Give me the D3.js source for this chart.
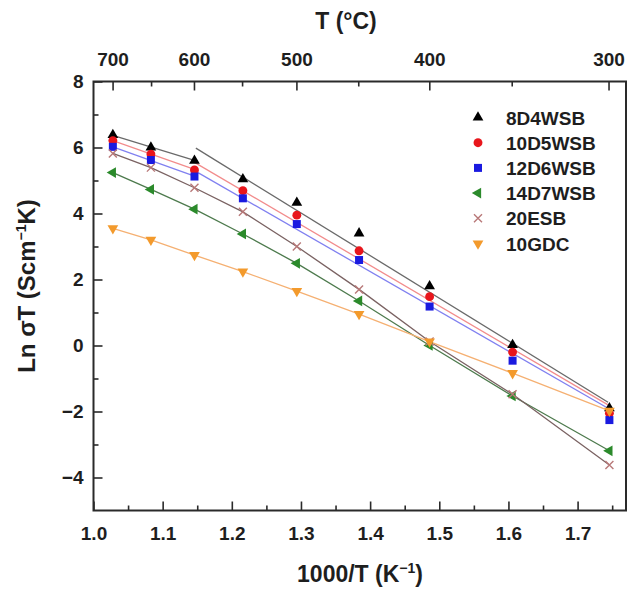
<!DOCTYPE html>
<html>
<head>
<meta charset="utf-8">
<script src="https://cdn.jsdelivr.net/npm/d3@7"></script>
<style>
    body { margin: 0; background: #fff; }
    svg text { font-family: "Liberation Sans", Arial, sans-serif; font-weight: bold; fill: #1e1e1e; }
</style>
</head>
<body>
<div id="chart"></div>
<script>
// 1000/T positions of the measured points (700 ... 300 degC)
const invT = [1.028, 1.083, 1.146, 1.216, 1.294, 1.384, 1.486, 1.606, 1.746];

const names = ['8D4WSB', '10D5WSB', '12D6WSB', '14D7WSB', '20ESB', '10GDC'];
const v8D4WSB = [6.38, 6.00, 5.60, 5.04, 4.33, 3.40, 1.80, 0.02, -1.90];
const v10D5WSB = [6.21, 5.80, 5.32, 4.69, 3.95, 2.87, 1.48, -0.20, -2.05];
const v12D6WSB = [6.02, 5.62, 5.12, 4.46, 3.68, 2.59, 1.18, -0.46, -2.26];
const v14D7WSB = [5.24, 4.73, 4.13, 3.38, 2.49, 1.35, 0.00, -1.53, -3.19];
const v20ESB = [5.82, 5.39, 4.78, 4.05, 3.00, 1.70, 0.12, -1.48, -3.62];
const v10GDC = [3.55, 3.20, 2.74, 2.24, 1.65, 0.95, 0.12, -0.84, -1.98];

// two-region linear fits (high T / low T), [1000/T, ln sigmaT]
const fit8D4WSB = [[[1.028, 6.37], [1.146, 5.61]], [[1.148, 5.98], [1.744, -1.72]]];
const fit10D5WSB = [[[1.028, 6.21], [1.146, 5.34]], [[1.146, 5.55], [1.744, -1.80]]];
const fit12D6WSB = [[[1.028, 6.02], [1.146, 5.13]], [[1.146, 5.30], [1.744, -1.90]]];

const xTicks = [1.0, 1.1, 1.2, 1.3, 1.4, 1.5, 1.6, 1.7];
const xMinor = [1.05, 1.15, 1.25, 1.35, 1.45, 1.55, 1.65, 1.75];
const yTicks = [-4, -2, 0, 2, 4, 6, 8];
const yMinor = [-3, -1, 1, 3, 5, 7];
const tTicks = [700, 600, 500, 400, 300];
const tMinor = [650, 550, 450, 350];

const width = 631, height = 594;
const margin = { top: 81.5, right: 5, bottom: 83.5, left: 93.5 };
const w = width - margin.left - margin.right;
const h = height - margin.top - margin.bottom;

const styles = [
    { shape: 'up', fill: '#000000', line: '#6a6a6a' },
    { shape: 'circle', fill: '#e8161c', line: '#f28c8c' },
    { shape: 'square', fill: '#1a1ae0', line: '#8080f0' },
    { shape: 'left', fill: '#2b8a2b', line: '#4d7a4d' },
    { shape: 'x', fill: '#b87878', line: '#7a6262' },
    { shape: 'down', fill: '#f39a2c', line: '#f5b072' }
];
const values = [v8D4WSB, v10D5WSB, v12D6WSB, v14D7WSB, v20ESB, v10GDC];
const fits = [fit8D4WSB, fit10D5WSB, fit12D6WSB, null, null, null];

const x = d3.scaleLinear().domain([1.0, 1.77]).range([0, w]);
const y = d3.scaleLinear().domain([-5, 8]).range([h, 0]);

const svg = d3.select('#chart')
    .append('svg')
    .attr('width', width)
    .attr('height', height);

const g = svg.append('g')
    .attr('transform', `translate(${margin.left}, ${margin.top})`);

function styleAxis(sel) {
    sel.select('.domain').remove();
    sel.selectAll('line').attr('stroke', '#2a2a2a').attr('stroke-width', 1.6);
    sel.selectAll('text').style('font-size', '19px').attr('fill', '#1e1e1e');
}

// bottom axis
g.append('g')
    .attr('transform', `translate(0, ${h})`)
    .call(d3.axisBottom(x).tickValues(xTicks).tickSize(-9).tickPadding(16).tickFormat(d3.format('.1f')))
    .call(styleAxis);
g.append('g')
    .attr('transform', `translate(0, ${h})`)
    .call(d3.axisBottom(x).tickValues(xMinor).tickSize(-5).tickFormat(''))
    .call(styleAxis);

// left axis
g.append('g')
    .call(d3.axisLeft(y).tickValues(yTicks).tickSize(-9).tickPadding(10)
        .tickFormat(d => d < 0 ? '\u2212' + Math.abs(d) : d))
    .call(styleAxis);
g.append('g')
    .call(d3.axisLeft(y).tickValues(yMinor).tickSize(-5).tickFormat(''))
    .call(styleAxis);

// top axis in degC
const toInv = t => 1000 / (t + 273.15);
g.append('g')
    .call(d3.axisTop(x).tickValues(tTicks.map(toInv)).tickSize(-9).tickPadding(16)
        .tickFormat((d, i) => tTicks[i]))
    .call(styleAxis);
g.append('g')
    .call(d3.axisTop(x).tickValues(tMinor.map(toInv)).tickSize(-5).tickFormat(''))
    .call(styleAxis);

// frame
g.append('rect')
    .attr('width', w)
    .attr('height', h)
    .attr('fill', 'none')
    .attr('stroke', '#2a2a2a')
    .attr('stroke-width', 2);

// lines
const line = d3.line().x(d => x(d[0])).y(d => y(d[1]));
values.forEach((vals, si) => {
    const segs = fits[si] ? fits[si] : [vals.map((v, i) => [invT[i], v])];
    segs.forEach(seg => {
        g.append('path')
            .attr('d', line(seg))
            .attr('fill', 'none')
            .attr('stroke', styles[si].line)
            .attr('stroke-width', 1.3);
    });
});

// markers
function drawMarker(sel, shape, color) {
    if (shape === 'x') {
        sel.append('path')
            .attr('d', 'M-4,-4L4,4M-4,4L4,-4')
            .attr('stroke', color)
            .attr('stroke-width', 1.4)
            .attr('fill', 'none');
        return;
    }
    let type = d3.symbolTriangle, size = 50, rot = 0;
    if (shape === 'circle') { type = d3.symbolCircle; size = 62; }
    if (shape === 'square') { type = d3.symbolSquare; size = 64; }
    if (shape === 'left') rot = -90;
    if (shape === 'down') rot = 180;
    sel.append('path')
        .attr('d', d3.symbol().type(type).size(size)())
        .attr('transform', `rotate(${rot})`)
        .attr('fill', color);
}

values.forEach((vals, si) => {
    vals.forEach((v, i) => {
        const m = g.append('g')
            .attr('transform', `translate(${x(invT[i])}, ${y(v)})`);
        drawMarker(m, styles[si].shape, styles[si].fill);
    });
});

// legend
const legend = g.append('g')
    .attr('transform', `translate(${478 - margin.left}, ${117.5 - margin.top})`);
names.forEach((n, i) => {
    const row = legend.append('g').attr('transform', `translate(0, ${i * 25.2})`);
    drawMarker(row, styles[i].shape, styles[i].fill);
    row.append('text')
        .attr('x', 28)
        .attr('y', 7)
        .style('font-size', '19px')
        .text(n);
});

// titles
svg.append('text')
    .attr('x', 346)
    .attr('y', 29)
    .attr('text-anchor', 'middle')
    .style('font-size', '23px')
    .text('T (\u00B0C)');

const xt = svg.append('text')
    .attr('x', 360)
    .attr('y', 582)
    .attr('text-anchor', 'middle')
    .style('font-size', '23px');
xt.append('tspan').text('1000/T (K');
xt.append('tspan').attr('dy', -9).style('font-size', '14px').text('\u22121');
xt.append('tspan').attr('dy', 9).text(')');

const yt = svg.append('text')
    .attr('transform', 'translate(35, 286) rotate(-90)')
    .attr('text-anchor', 'middle')
    .style('font-size', '24px');
yt.append('tspan').text('Ln \u03C3T (Scm');
yt.append('tspan').attr('dy', -9).style('font-size', '14px').text('\u22121');
yt.append('tspan').attr('dy', 9).text('K)');
</script>
</body>
</html>
